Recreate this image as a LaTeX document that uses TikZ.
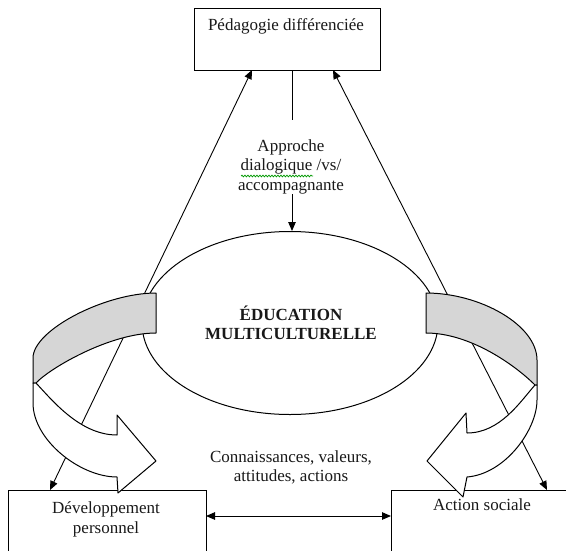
\documentclass[tikz,border=0pt]{standalone}
\usepackage{fontspec}
\setmainfont{Liberation Serif}
\usetikzlibrary{arrows.meta,shapes.geometric,decorations.pathmorphing,calc}
\begin{document}
\begin{tikzpicture}[x=1pt,y=-1pt,
  txt/.style={font=\fontsize{17}{19.5}\selectfont, align=center, inner sep=0pt, text=black!90},
  ttlst/.style={font=\fontsize{17}{19}\selectfont\bfseries, align=center, inner sep=0pt, text=black!90},
  boxst/.style={draw, line width=1.2pt, fill=white, rectangle, inner sep=0pt},
  tip/.tip={Triangle[length=9pt,width=7.5pt]},
  conn/.style={line width=0.9pt, tip-tip},
  oneway/.style={line width=0.9pt, -tip},
  plain/.style={line width=0.9pt},
  band/.style={draw, line width=1pt, fill=black!16, line join=round},
  front/.style={draw, line width=1pt, fill=white, line join=round}]
\clip (0,0) rectangle (566,550);
\fill[white] (0,0) rectangle (566,550);

% central ellipse
\node[ellipse, draw, line width=1pt, fill=white, minimum width=296pt, minimum height=183pt, inner sep=0pt] (ell) at (290,323) {};
\node[ttlst, anchor=north] (ttl) at (291,306) {ÉDUCATION\\MULTICULTURELLE};

% boxes
\node[boxst, minimum width=186pt, minimum height=62pt, anchor=north west] (ped) at (194,8) {};
\node[txt, anchor=base] (pedt) at (286,30) {Pédagogie différenciée};
\node[boxst, minimum width=198pt, minimum height=120pt, anchor=north west] (dev) at (8,490) {};
\node[txt, anchor=north] (devt) at (106,501.5) {Développement\\personnel};
\node[boxst, minimum width=182pt, minimum height=120pt, anchor=north west] (act) at (391,490) {};
\node[txt, anchor=base] (actt) at (482,510) {Action sociale};

% diagonal double arrows
\coordinate (tl) at (252,70);
\coordinate (bl) at (50,490);
\coordinate (tr) at (333,70);
\coordinate (br) at (547,490);
\draw[conn] (bl) -- (tl);
\draw[conn] (br) -- (tr);

% left curved arrow
\path[band] (156,293) .. controls (105,293) and (33,330) .. (33,358)
  -- (33,383) -- (36,383) .. controls (50,368) and (110,333) .. (156,333) -- cycle;
\path[front] (36,383) .. controls (52,400) and (80,435) .. (117,435)
  -- (117,415) -- (156,461) -- (118,493) -- (117,477)
  .. controls (80,477) and (33,440) .. (33,403) -- (33,383) -- cycle;

% right curved arrow
\path[band] (426,293) .. controls (480,293) and (537,325) .. (537,360)
  -- (537,385) -- (535,385) .. controls (515,365) and (470,333) .. (426,333) -- cycle;
\path[front] (535,385) .. controls (520,402) and (500,433) .. (467,433)
  -- (466,413) -- (427,461) -- (463,497) -- (467,477)
  .. controls (505,474) and (537,430) .. (537,400) -- (537,385) -- cycle;

% top link
\coordinate (a1) at (292,120);
\coordinate (a2) at (292,194);
\draw[plain] (ped.south -| a1) -- (a1);
\node[txt, anchor=north] (appr) at (291,139) {Approche\\dialogique /vs/\\accompagnante};
\draw[green!60!black, line width=0.7pt, decorate, decoration={snake, segment length=3pt, amplitude=0.9pt}] (241,176) -- (313,176);
\draw[oneway] (a2) -- (a2 |- ell.north);

% bottom link
\coordinate (h1) at (206,516);
\coordinate (h2) at (391,516);
\draw[conn] (h1) -- (h2);
\node[txt, anchor=north] (conn) at (291,450) {Connaissances, valeurs,\\attitudes, actions};
\end{tikzpicture}
\end{document}
